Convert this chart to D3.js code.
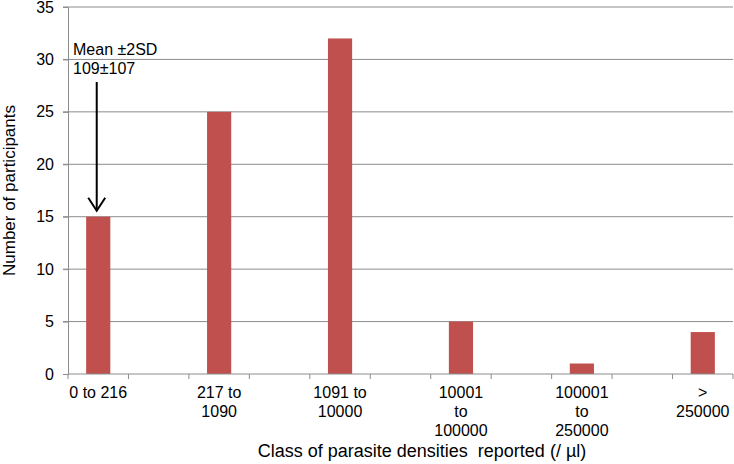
<!DOCTYPE html>
<html><head><meta charset="utf-8">
<script src="https://d3js.org/d3.v7.min.js"></script>
<style>
body{margin:0;background:#fff;}
text{font-family:"Liberation Sans",Arial,sans-serif;fill:#000;}
</style></head>
<body><svg id="c" width="734" height="464"></svg>
<script>
// 11 class slots; odd slots are empty spacers in the original chart
const categories = [["0 to 216"], [], ["217 to","1090"], [], ["1091 to","10000"], [], ["10001","to","100000"], [], ["100001","to","250000"], [], [">","250000"]];
const values = [15, 0, 25, 0, 32, 0, 5, 0, 1, 0, 4];
const yTicks = [0, 5, 10, 15, 20, 25, 30, 35];
const annotation = ["Mean \u00b12SD", "109\u00b1107"];
const xTitle = "Class of parasite densities  reported (/ \u00b5l)";
const yTitle = "Number of participants";

const svg = d3.select("#c");
const L = 68, R = 733, T = 7, B = 374;
const x = d3.scaleBand().domain(d3.range(categories.length)).range([L, R]).paddingInner(0).paddingOuter(0);
const y = d3.scaleLinear().domain([0, 35]).range([B, T]);
const grid = "#8c8c8c";

// gridlines
svg.append("g").selectAll("line").data(yTicks.filter(d => d > 0)).join("line")
  .attr("x1", L - 5).attr("x2", R).attr("y1", d => y(d)).attr("y2", d => y(d))
  .attr("stroke", grid).attr("stroke-width", 1);

// y axis
const ya = svg.append("g").attr("transform", `translate(${L},0)`)
  .call(d3.axisLeft(y).tickValues(yTicks).tickSize(5).tickPadding(9));
ya.selectAll("path,line").attr("stroke", grid);
ya.selectAll("text").attr("font-size", 16).attr("font-family", "Liberation Sans, Arial, sans-serif").attr("fill", "#000");

// bars
const bw = x.bandwidth() * 0.4;
svg.append("g").selectAll("rect").data(values).join("rect")
  .attr("x", (d, i) => x(i) + x.bandwidth() / 2 - bw / 2)
  .attr("width", bw)
  .attr("y", d => y(d)).attr("height", d => y(0) - y(d))
  .attr("fill", "#C0504D");

// x axis
const xa = svg.append("g").attr("transform", `translate(0,${B})`);
xa.append("line").attr("x1", L).attr("x2", R).attr("y1", 0).attr("y2", 0).attr("stroke", grid);
xa.selectAll("line.t").data(d3.range(categories.length + 1)).join("line").attr("class", "t")
  .attr("x1", i => L + i * x.bandwidth()).attr("x2", i => L + i * x.bandwidth())
  .attr("y1", 0).attr("y2", 5).attr("stroke", grid);
categories.forEach((lines, i) => {
  lines.forEach((s, j) => {
    xa.append("text").attr("x", x(i) + x.bandwidth() / 2).attr("y", 24 + j * 19)
      .attr("text-anchor", "middle").attr("font-size", 16).text(s);
  });
});

// titles
svg.append("text").attr("x", 422).attr("y", 457).attr("text-anchor", "middle")
  .attr("font-size", 18).style("white-space", "pre").text(xTitle);
svg.append("text").attr("transform", `translate(15,${(T + B) / 2}) rotate(-90)`)
  .attr("text-anchor", "middle").attr("font-size", 17).text(yTitle);

// annotation
annotation.forEach((s, j) => svg.append("text").attr("x", 73).attr("y", 55 + j * 19)
  .attr("font-size", 16).text(s));
const ax = x(0) + x.bandwidth() / 2 - 1.5;
const tipY = y(values[0]) - 6;
svg.append("line").attr("x1", ax).attr("x2", ax).attr("y1", 82).attr("y2", tipY)
  .attr("stroke", "#000").attr("stroke-width", 2);
svg.append("path").attr("d", `M${ax - 8.5},${tipY - 13} L${ax},${tipY} L${ax + 8.5},${tipY - 13}`)
  .attr("fill", "none").attr("stroke", "#000").attr("stroke-width", 2);
</script></body></html>
